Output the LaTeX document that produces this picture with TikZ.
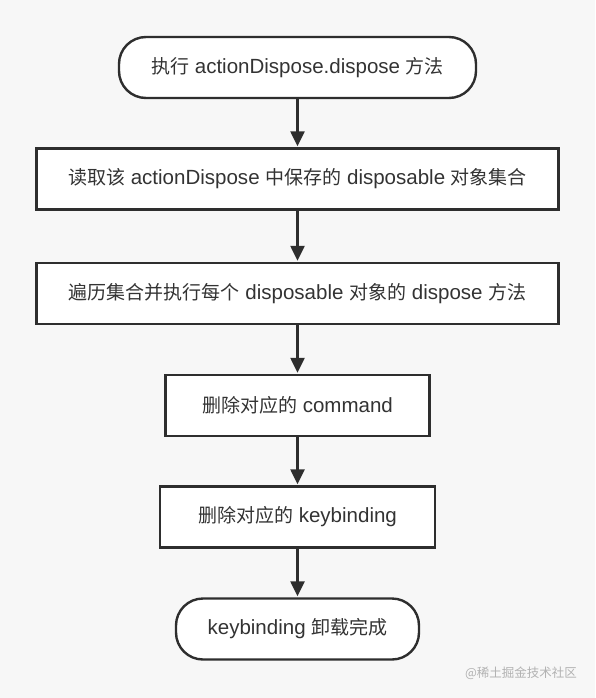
\documentclass[tikz,border=0pt]{standalone}
\usepackage{fontspec}
\setmainfont[Scale=1.08]{Liberation Sans}
\newfontfamily\zhfont{Noto Sans CJK SC}
\newcommand{\zh}[1]{{\zhfont #1}}
\usepackage{xcolor}
\usepackage{tikz}
\usetikzlibrary{positioning, arrows.meta, shapes, calc}

\definecolor{bggray}{HTML}{F7F7F7}
\definecolor{linegray}{HTML}{2E2E2E}
\definecolor{textgray}{HTML}{333333}

\begin{document}
\begin{tikzpicture}[x=1pt, y=-1pt,
    box/.style={rectangle, draw=linegray, line width=2.4pt, fill=white, text=textgray, font=\fontsize{19}{22}\selectfont, minimum height=61pt},
    term/.style={box, rounded corners=27pt},
    flow/.style={-{Triangle[length=15pt, width=14pt]}, line width=2.4pt, draw=linegray, shorten >=1pt}]
        % background
        \fill[bggray] (0,0) rectangle (595,698);
        \useasboundingbox (0,0) rectangle (595,698);

        % Step nodes
        \node[term, minimum width=357pt] (start) at (297.5,67.5) {\zh{执行} actionDispose.dispose \zh{方法}};
        \node[box, minimum width=522pt] (read) at (297.5,179) {\zh{读取该} actionDispose \zh{中保存的} disposable \zh{对象集合}};
        \node[box, minimum width=522pt] (loop) at (297.5,293.5) {\zh{遍历集合并执行每个} disposable \zh{对象的} dispose \zh{方法}};
        \node[box, minimum width=264pt] (delcmd) at (297.5,405.5) {\zh{删除对应的} command};
        \node[box, minimum width=275pt] (delkey) at (297.5,517) {\zh{删除对应的} keybinding};
        \node[term, minimum width=243pt] (done) at (297.5,629) {keybinding \zh{卸载完成}};

        % Watermark
        \node[text=gray!60, font=\zhfont\fontsize{12.5}{14}\selectfont] (mark) at (521,673) {@稀土掘金技术社区};

        % Arrows
        \draw[flow] (start) -- (read);
        \draw[flow] (read) -- (loop);
        \draw[flow] (loop) -- (delcmd);
        \draw[flow] (delcmd) -- (delkey);
        \draw[flow] (delkey) -- (done);
    \end{tikzpicture}
\end{document}
